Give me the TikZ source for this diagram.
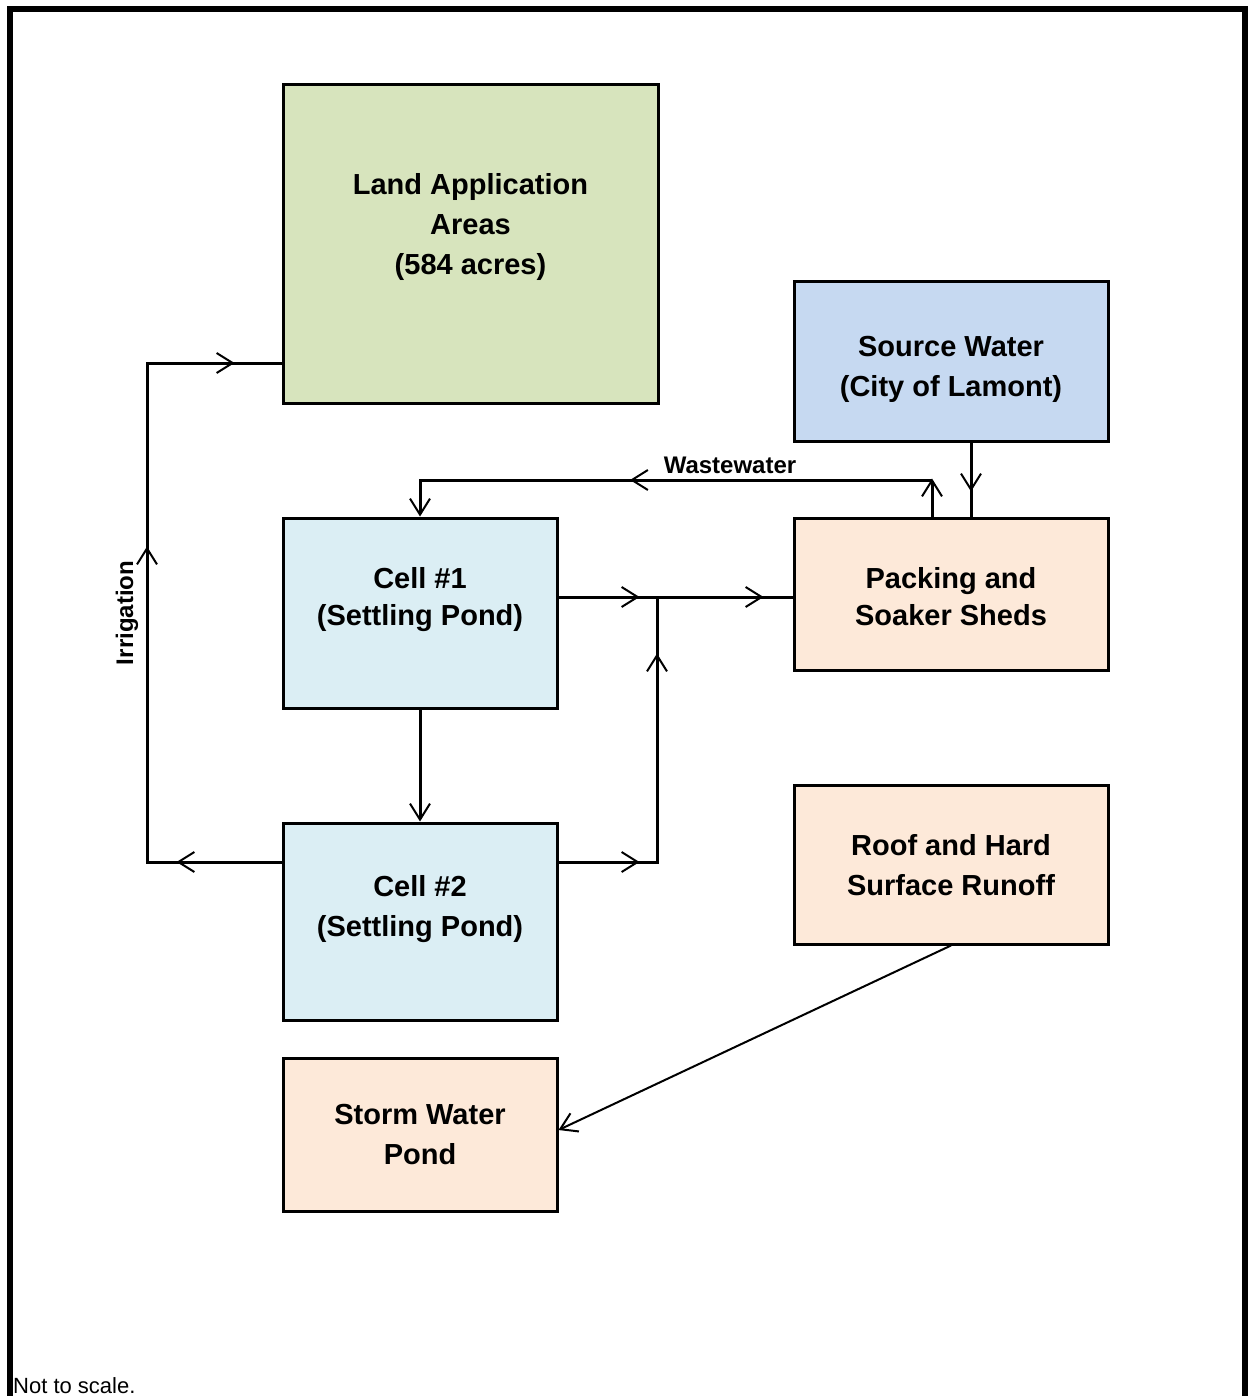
\documentclass[tikz,border=0pt]{standalone}
\usepackage{fontspec}
\setmainfont{Liberation Sans}
\usetikzlibrary{arrows.meta,decorations.markings}
\definecolor{landgreen}{HTML}{D7E4BD}
\definecolor{srcblue}{HTML}{C6D9F1}
\definecolor{cellblue}{HTML}{DBEEF4}
\definecolor{peach}{HTML}{FDE9D9}
\begin{document}
\begin{tikzpicture}[x=1pt,y=-1pt,
  >={Straight Barb[length=16pt,width=20pt,line width=2pt]},
  box/.style={draw,line width=3pt,inner sep=0pt},
  btxt/.style={font=\bfseries\fontsize{29}{40}\selectfont,align=center,inner sep=0pt},
  flow/.style={line width=3pt},
  marks/.style={postaction={decorate},decoration={markings,#1}}]
\useasboundingbox (0,0) rectangle (1248,1396);
\draw[line width=6pt] (10,1396) -- (10,9) -- (1245,9) -- (1245,1396);

% boxes
\node[box,fill=landgreen,minimum width=375pt,minimum height=318pt,
  label={[btxt,yshift=17pt]center:{Land Application\\Areas\\(584 acres)}}] (land) at (470.5,244) {};
\node[box,fill=srcblue,minimum width=314pt,minimum height=159pt,
  label={[btxt,yshift=-8pt]center:{Source Water\\(City of Lamont)}}] (source) at (951,361.5) {};
\node[box,fill=cellblue,minimum width=274pt,minimum height=190pt,
  label={[btxt,font=\bfseries\fontsize{29}{37}\selectfont,yshift=13pt]center:{Cell \#1\\(Settling Pond)}}] (cell1) at (420,613) {};
\node[box,fill=peach,minimum width=314pt,minimum height=152pt,
  label={[btxt,font=\bfseries\fontsize{29}{37}\selectfont,yshift=-3pt]center:{Packing and\\Soaker Sheds}}] (packing) at (951,594) {};
\node[box,fill=cellblue,minimum width=274pt,minimum height=197pt,
  label={[btxt,yshift=12pt]center:{Cell \#2\\(Settling Pond)}}] (cell2) at (420,921.5) {};
\node[box,fill=peach,minimum width=314pt,minimum height=159pt,
  label={[btxt,yshift=-1pt]center:{Roof and Hard\\Surface Runoff}}] (roof) at (951,864.5) {};
\node[box,fill=peach,minimum width=274pt,minimum height=153pt,
  label={[btxt]center:{Storm Water\\Pond}}] (storm) at (420,1134.5) {};

% labels
\node[font=\bfseries\fontsize{24}{28}\selectfont,inner sep=0pt] (wwlab) at (730,465) {Wastewater};
\node[rotate=90,font=\bfseries\fontsize{24}{28}\selectfont,inner sep=0pt] (irrlab) at (127,613) {Irrigation};
\node[anchor=base west,font=\fontsize{22}{26}\selectfont,inner sep=0pt] (note) at (13,1393) {Not to scale.};

% connector points
\coordinate (irrB) at (147,862);
\coordinate (irrT) at (147,363);
\coordinate (wwR) at (932,480);
\coordinate (wwL) at (420,480);
\coordinate (jn) at (657,597);
\coordinate (jb) at (657,862);

% irrigation loop
\draw[flow,line join=miter,marks={mark=at position 105pt with {\arrow{>}},
  mark=at position 450pt with {\arrow{>}},mark=at position 721pt with {\arrow{>}}}]
  (cell2.west |- irrB) -- (irrB) -- (irrT) -- (land.west |- irrT);

% wastewater
\draw[flow,->,shorten >=-1.5pt] (packing.north -| wwR) -- (wwR);
\draw[flow,->,marks={mark=at position 302pt with {\arrow{>}}}]
  (wwR) -- (wwL) -- (cell1.north);

% source water
\draw[flow,marks={mark=at position 49pt with {\arrow{>}}}]
  (971,0 |- source.south) -- (971,0 |- packing.north);

% cell1 to packing
\draw[flow,marks={mark=at position 81pt with {\arrow{>}},mark=at position 205pt with {\arrow{>}}}]
  (cell1.east |- jn) -- (packing.west |- jn);

% cell2 to junction
\draw[flow,marks={mark=at position 81pt with {\arrow{>}},mark=at position 307pt with {\arrow{>}}}]
  (cell2.east |- jb) -- (jb) -- (jn);

% cell1 to cell2
\draw[flow,->] (cell1.south) -- (cell2.north);

% roof to storm
\draw[line width=2pt,->] (roof.south) -- (storm.east |- 0,1130);
\end{tikzpicture}
\end{document}
